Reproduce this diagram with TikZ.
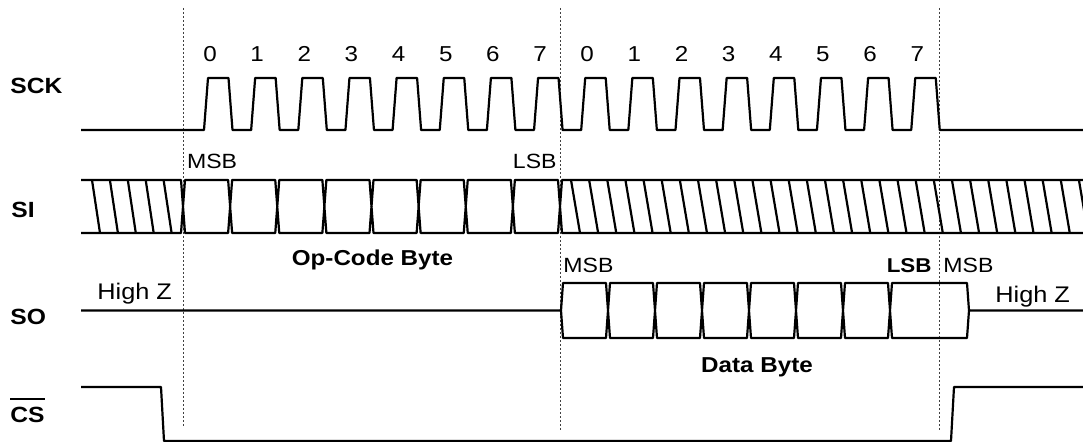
\documentclass[tikz,border=0pt]{standalone}
\usepackage{fontspec}
\setmainfont[FakeStretch=1.12]{Liberation Sans}
\begin{document}
\begin{tikzpicture}[x=0.5pt,y=-0.5pt,
  wave/.style={line width=1.1pt, line join=round},
  guide/.style={dash pattern=on 1pt off 1pt, line width=0.45pt, black!75},
  signame/.style={anchor=base west, inner sep=0pt, font=\fontsize{11}{12}\selectfont\bfseries},
  tick/.style={anchor=base, inner sep=0pt, font=\fontsize{10.8}{12}\selectfont},
  bitlbl/.style={inner sep=0pt, font=\fontsize{10.3}{12}\selectfont},
  hiz/.style={anchor=base west, inner sep=0pt, font=\fontsize{11.3}{14}\selectfont},
  bytelbl/.style={anchor=base, inner sep=0pt, font=\fontsize{10.8}{12}\selectfont\bfseries}]
\useasboundingbox (0,0) rectangle (1083,442);

\draw[guide] (183,8) -- (183,428);
\draw[guide] (560,8) -- (560,430);
\draw[guide] (939,8) -- (939,430);

\node[signame] (sck) at (10,94) {SCK};
\node[signame] (si) at (11,218) {SI};
\node[signame] (so) at (10,325) {SO};
\node[signame] (cs) at (10,422.7) {CS};
\draw[line width=1pt] ([yshift=4pt]cs.north west) -- ([yshift=4pt]cs.north east);

\draw[wave] (81,130) \foreach \k in {0,...,15} {
  -- ({204+47.15*\k},130) -- ({208+47.15*\k},78) -- ({228.5+47.15*\k},78) -- ({232.5+47.15*\k},130)
} -- (1083,130);
\foreach \k in {0,...,15} {
  \pgfmathtruncatemacro{\d}{mod(\k,8)}
  \node[tick] (bit\k) at ({210+47.15*\k},62) {\d};
}

\draw[wave] (81,180) \foreach \i in {0,...,8} {
  -- ({183+47.125*\i-2},180) -- ({183+47.125*\i},206.5) -- ({183+47.125*\i+2},180)
} -- (1083,180);
\draw[wave] (81,233) \foreach \i in {0,...,8} {
  -- ({183+47.125*\i-2},233) -- ({183+47.125*\i},206.5) -- ({183+47.125*\i+2},233)
} -- (1083,233);
\foreach \k in {0,...,4}
  \draw[wave] ({92+17.9*\k},180) -- ({100+17.9*\k},233);
\foreach \k in {0,...,28}
  \draw[wave] ({571+18.14*\k},180) -- ({580+18.14*\k},233);

\node[bitlbl, anchor=base west] (simsb) at (186.7,168.3) {MSB};
\node[bitlbl, anchor=base east] (silsb) at (557,169) {LSB};
\node[bytelbl] (opcode) at (372.5,266) {Op-Code Byte};

\draw[wave] (81,310.5) -- (561,310.5) -- (563,283) \foreach \b in {608,655,...,890} {
  -- ({\b-2},283) -- (\b,310.5) -- ({\b+2},283)
} -- (967,283) -- (969,310.5) -- (1083,310.5);
\draw[wave] (561,310.5) -- (563,338) \foreach \b in {608,655,...,890} {
  -- ({\b-2},338) -- (\b,310.5) -- ({\b+2},338)
} -- (967,338) -- (969,310.5);

\node[hiz] (hizl) at (97,299.3) {High Z};
\node[hiz] (hizr) at (995,303) {High Z};
\node[bitlbl, anchor=base west] (somsb) at (563,272.7) {MSB};
\node[bitlbl, anchor=base east, font=\fontsize{10}{12}\selectfont\bfseries] (solsb) at (932,272.7) {LSB};
\node[bitlbl, anchor=base west] (somsbn) at (943,272.7) {MSB};
\node[bytelbl] (data) at (757,373) {Data Byte};

\draw[wave] (81,387) -- (161,387) -- (164,441) -- (951,441) -- (954,387) -- (1083,387);
\end{tikzpicture}
\end{document}
